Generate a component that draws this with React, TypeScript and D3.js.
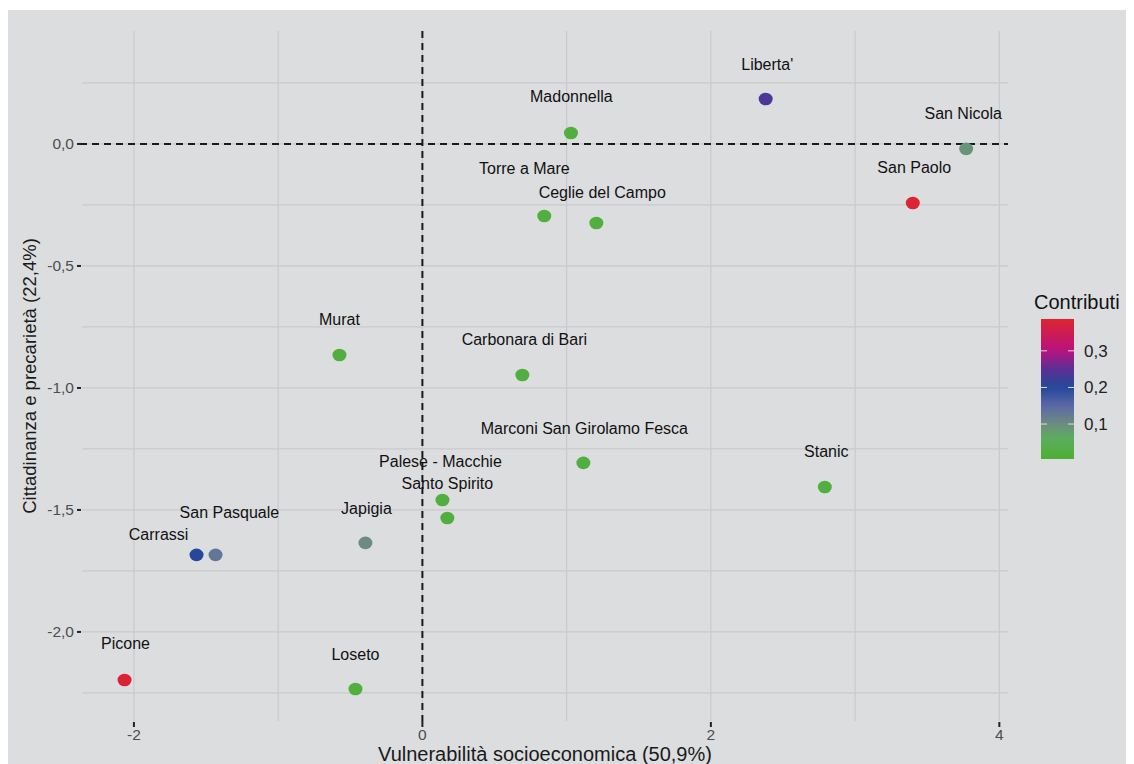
import * as d3 from 'd3'

// quartieri di Bari: coordinate sul piano fattoriale e contributo
const names = [
  'Madonnella', "Liberta'", 'San Nicola', 'San Paolo', 'Torre a Mare',
  'Ceglie del Campo', 'Murat', 'Carbonara di Bari', 'Marconi San Girolamo Fesca',
  'Stanic', 'Palese - Macchie', 'Santo Spirito', 'Japigia', 'San Pasquale',
  'Carrassi', 'Picone', 'Loseto',
]
const dim1 = [1.03, 2.38, 3.77, 3.4, 0.845, 1.206, -0.575, 0.693, 1.116, 2.79, 0.139, 0.173, -0.395, -1.434, -1.566, -2.065, -0.464]
const dim2 = [0.045, 0.184, -0.02, -0.242, -0.295, -0.324, -0.865, -0.947, -1.307, -1.406, -1.459, -1.533, -1.635, -1.684, -1.684, -2.197, -2.234]
const contrib = [0.02, 0.235, 0.09, 0.385, 0.02, 0.02, 0.02, 0.02, 0.02, 0.02, 0.02, 0.02, 0.1, 0.13, 0.2, 0.38, 0.02]
// label positions (repelled), in data units
const labelX = [1.033, 2.391, 3.749, 3.41, 0.707, 1.247, -0.575, 0.707, 1.123, 2.8, 0.125, 0.173, -0.388, -1.338, -1.829, -2.058, -0.464]
const labelY = [0.193, 0.328, 0.127, -0.094, -0.102, -0.197, -0.721, -0.803, -1.164, -1.262, -1.303, -1.393, -1.492, -1.512, -1.602, -2.049, -2.094]

const xMajor = [-2, 0, 2, 4]
const xMinor = [-1, 1, 3]
const yMajor = [0, -0.5, -1, -1.5, -2]
const yMinor = [0.25, -0.25, -0.75, -1.25, -1.75, -2.25]
const legendTicks = [0.1, 0.2, 0.3]

const colorStops = [0.0045, 0.06, 0.1, 0.15, 0.2, 0.25, 0.3, 0.387]
const colorRange = ['#4caf32', '#5cae5e', '#6c8c80', '#5c68a8', '#24489a', '#5a3094', '#b8127f', '#de2430']

const fmt = (v: number) => d3.format('.1f')(v).replace('.', ',').replace('−', '-')

export default function App() {
  const W = 1126
  const H = 756
  const x = d3.scaleLinear().domain([-2.36, 4.06]).range([74, 1000])
  const y = d3.scaleLinear().domain([-2.365, 0.463]).range([713, 23])
  const color = d3.scaleLinear<string>().domain(colorStops).range(colorRange)
  const leg = d3.scaleLinear().domain([0.0045, 0.387]).range([451, 311])
  const font = 'Liberation Sans, Arial, sans-serif'
  const grid = '#c9cacc'

  return (
    <svg width={W} height={H} style={{ display: 'block', fontFamily: font }}>
      <defs>
        <linearGradient id="cbar" x1="0" y1="1" x2="0" y2="0">
          {d3.range(0, 1.0001, 0.05).map(t => {
            const v = 0.0045 + t * (0.387 - 0.0045)
            return <stop key={t} offset={t} stopColor={color(v)} />
          })}
        </linearGradient>
      </defs>
      <rect x={0} y={2} width={W} height={H} fill="#dcdddf" />

      {/* grid */}
      {xMinor.concat(xMajor).map(v => (
        <line key={'gx' + v} x1={x(v)} x2={x(v)} y1={23} y2={713} stroke={grid} strokeWidth={1.2} />
      ))}
      {yMinor.concat(yMajor).map(v => (
        <line key={'gy' + v} x1={74} x2={1000} y1={y(v)} y2={y(v)} stroke={grid} strokeWidth={1.2} />
      ))}

      {/* reference lines */}
      <line x1={72} x2={1000} y1={y(0)} y2={y(0)} stroke="#1a1a1a" strokeWidth={2} strokeDasharray="7,5" />
      <line x1={x(0)} x2={x(0)} y1={23} y2={719} stroke="#1a1a1a" strokeWidth={2} strokeDasharray="7,5" />

      {/* axes */}
      {yMajor.map(v => (
        <g key={'ty' + v}>
          <line x1={69} x2={73} y1={y(v)} y2={y(v)} stroke="#222" strokeWidth={2} />
          <text x={66} y={y(v)} dy="0.35em" textAnchor="end" fontSize={15.5} fill="#4d4d4d">{fmt(v)}</text>
        </g>
      ))}
      {xMajor.map(v => (
        <g key={'tx' + v}>
          <line x1={x(v)} x2={x(v)} y1={714} y2={719} stroke="#222" strokeWidth={2} />
          <text x={x(v)} y={732} textAnchor="middle" fontSize={15.5} fill="#4d4d4d">{String(v).replace('−', '-')}</text>
        </g>
      ))}
      <text x={537} y={753} textAnchor="middle" fontSize={20} fill="#1a1a1a">Vulnerabilità socioeconomica (50,9%)</text>
      <text transform={`translate(28,${368}) rotate(-90)`} textAnchor="middle" fontSize={18.5} fill="#1a1a1a">
        Cittadinanza e precarietà (22,4%)
      </text>

      {/* labels and points */}
      {names.map((n, i) => (
        <text key={'l' + n} x={x(labelX[i])} y={y(labelY[i])} dy="0.35em" textAnchor="middle" fontSize={16} fill="#111">
          {n}
        </text>
      ))}
      {names.map((n, i) => (
        <ellipse key={'p' + n} cx={x(dim1[i])} cy={y(dim2[i])} rx={7} ry={6.3} fill={color(contrib[i])} />
      ))}

      {/* legend */}
      <text x={1026} y={294} dy="0.35em" fontSize={20} fill="#111">Contributi</text>
      <rect x={1033} y={311} width={33} height={140} fill="url(#cbar)" />
      {legendTicks.map(v => (
        <g key={'lt' + v}>
          <line x1={1033} x2={1039} y1={leg(v)} y2={leg(v)} stroke="#ddd" strokeWidth={1} />
          <line x1={1060} x2={1066} y1={leg(v)} y2={leg(v)} stroke="#ddd" strokeWidth={1} />
          <text x={1076} y={leg(v)} dy="0.35em" fontSize={17} fill="#222">{fmt(v)}</text>
        </g>
      ))}
    </svg>
  )
}
